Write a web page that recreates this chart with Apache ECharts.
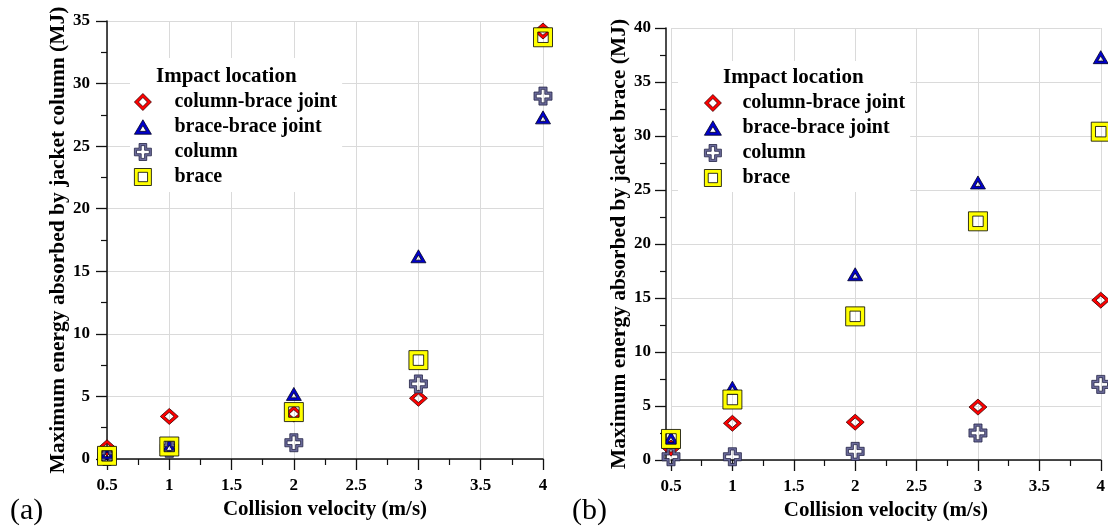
<!DOCTYPE html>
<html>
<head>
<meta charset="utf-8">
<script src="https://cdn.jsdelivr.net/npm/echarts@6/dist/echarts.min.js"></script>
<style>
  html, body { margin: 0; padding: 0; background: #fff; }
  #chart { width: 1108px; height: 530px; }
</style>
</head>
<body>
<div id="chart"></div>
<script>
// ---- data ----
const velocities = [0.5, 1, 2, 3, 4];
const seriesNames = ['column-brace joint', 'brace-brace joint', 'column', 'brace'];

// (a) energy absorbed by jacket column (MJ)
const colBraceJointA = [0.9, 3.4, 3.6, 4.85, 34.2];
const braceBraceJointA = [0.5, 1.0, 5.2, 16.2, 27.3];
const columnA = [0.2, 0.85, 1.3, 6.0, 29.0];
const braceA = [0.25, 1.0, 3.75, 7.9, 33.7];

// (b) energy absorbed by jacket brace (MJ)
const colBraceJointB = [1.1, 3.4, 3.5, 4.9, 14.8];
const braceBraceJointB = [2.0, 6.7, 17.2, 25.7, 37.3];
const columnB = [0.3, 0.3, 0.8, 2.5, 7.0];
const braceB = [1.95, 5.6, 13.3, 22.1, 30.4];

const xTitle = 'Collision velocity (m/s)';
const yTitleA = 'Maximum energy absorbed by jacket column (MJ)';
const yTitleB = 'Maximum energy absorbed by jacket brace (MJ)';
const legendTitle = 'Impact location';

// ---- styles ----
const FONT = '"Liberation Serif", "Times New Roman", serif';
const SYM = {
  diamond: 'path://M10,0L20,10L10,20L0,10Z M10,4.7L4.7,10L10,15.3L15.3,10Z',
  triangle: 'path://M10,0L20,17L0,17Z M10,6.8L6,13.6L14,13.6Z',
  cross: 'path://M5.5,0L14.5,0L14.5,5.5L20,5.5L20,14.5L14.5,14.5L14.5,20L5.5,20L5.5,14.5L0,14.5L0,5.5L5.5,5.5Z M8,2.5L8,8L2.5,8L2.5,12L8,12L8,17.5L12,17.5L12,12L17.5,12L17.5,8L12,8L12,2.5Z',
  square: 'path://M0,0L20,0L20,20L0,20Z M4.5,4.5L4.5,15.5L15.5,15.5L15.5,4.5Z'
};
const markers = [
  { symbol: SYM.diamond, size: [18, 16], color: '#ff0000', border: '#3a0000' },
  { symbol: SYM.triangle, size: [15, 13], color: '#0000cc', border: '#000022' },
  { symbol: SYM.cross, size: [18, 18], color: '#6c6c9c', border: '#222244' },
  { symbol: SYM.square, size: [19, 19], color: '#ffff00', border: '#000000' }
];

function pairs(vals) { return velocities.map((v, i) => [v, vals[i]]); }

function makeSeries(valsList, gi) {
  return valsList.map((vals, k) => ({
    type: 'scatter',
    name: seriesNames[k],
    xAxisIndex: gi, yAxisIndex: gi,
    data: pairs(vals),
    symbol: markers[k].symbol,
    symbolSize: markers[k].size,
    clip: false,
    z: 2 + k,
    itemStyle: { color: markers[k].color, borderColor: markers[k].border, borderWidth: 0.8, opacity: 1 },
    emphasis: { disabled: true }
  }));
}

function xAxisCfg(gi) {
  return {
    type: 'value', gridIndex: gi, min: 0.5, max: 4, interval: 0.5,
    name: xTitle, nameLocation: 'middle', nameGap: 36,
    nameTextStyle: { fontFamily: FONT, fontWeight: 'bold', fontSize: 21, color: '#000' },
    axisLine: { show: true, onZero: false, lineStyle: { color: '#111', width: 1.5 } },
    axisTick: { show: true, inside: false, length: 11, lineStyle: { color: '#111', width: 1.3 } },
    minorTick: { show: true, splitNumber: 2, length: 6, lineStyle: { color: '#111', width: 1.2 } },
    axisLabel: { fontFamily: FONT, fontWeight: 'bold', fontSize: 17, color: '#000', margin: 18 },
    splitLine: { show: true, lineStyle: { color: '#dadada', width: 1 } },
    minorSplitLine: { show: false }
  };
}
function yAxisCfg(gi, max, title, nameGap, margin, offset) {
  return {
    type: 'value', gridIndex: gi, min: 0, max: max, interval: 5, offset: offset,
    name: title, nameLocation: 'middle', nameGap: nameGap, nameRotate: 90,
    nameTextStyle: { fontFamily: FONT, fontWeight: 'bold', fontSize: 21.5, color: '#000' },
    axisLine: { show: true, onZero: false, lineStyle: { color: '#111', width: 1.5 } },
    axisTick: { show: true, inside: false, length: 11, lineStyle: { color: '#111', width: 1.3 } },
    minorTick: { show: true, splitNumber: 2, length: 6, lineStyle: { color: '#111', width: 1.2 } },
    axisLabel: { fontFamily: FONT, fontWeight: 'bold', fontSize: 17, color: '#000', margin: margin },
    splitLine: { show: true, lineStyle: { color: '#dadada', width: 1 } },
    minorSplitLine: { show: false }
  };
}
function legendCfg(left, top, padding, spacer) {
  return {
    orient: 'vertical', left: left, top: top, padding: padding,
    backgroundColor: '#fff', itemWidth: 17, itemHeight: 17, itemGap: 5,
    selectedMode: false, z: 3,
    data: seriesNames.map((n, k) => ({
      name: n, icon: markers[k].symbol,
      itemStyle: { color: markers[k].color, borderColor: markers[k].border, borderWidth: 0.8 }
    })),
    formatter: (name) => '{g| }{t|' + name + '}',
    textStyle: {
      rich: {
        g: { width: spacer, fontSize: 20, lineHeight: 20 },
        t: { fontFamily: FONT, fontWeight: 'bold', fontSize: 20, lineHeight: 20, color: '#000' }
      }
    }
  };
}

const option = {
  animation: false,
  backgroundColor: '#fff',
  grid: [
    { left: 107, top: 21, width: 436, height: 438 },
    { left: 671, top: 28, width: 432, height: 432 }
  ],
  xAxis: [xAxisCfg(0), xAxisCfg(1)],
  yAxis: [yAxisCfg(0, 35, yTitleA, 37, 17, 0), yAxisCfg(1, 40, yTitleB, 35, 15, 5)],
  legend: [
    legendCfg(130, 58, [34, 5, 5, 4], 18),
    legendCfg(678, 61, [32, 5, 4, 26], 16)
  ],
  title: [
    { text: legendTitle, left: 156, top: 66, padding: 0, z: 10,
      textStyle: { fontFamily: FONT, fontWeight: 'bold', fontSize: 21, lineHeight: 21, color: '#000' } },
    { text: legendTitle, left: 723, top: 67, padding: 0, z: 10,
      textStyle: { fontFamily: FONT, fontWeight: 'bold', fontSize: 21, lineHeight: 21, color: '#000' } }
  ],
  graphic: [
    { type: 'text', left: 10, top: 496, style: { text: '(a)', font: '30px ' + FONT, fill: '#000' } },
    { type: 'text', left: 572, top: 496, style: { text: '(b)', font: '30px ' + FONT, fill: '#000' } }
  ],
  series: [].concat(
    makeSeries([colBraceJointA, braceBraceJointA, columnA, braceA], 0),
    makeSeries([colBraceJointB, braceBraceJointB, columnB, braceB], 1)
  )
};

const chart = echarts.init(document.getElementById('chart'), null, { renderer: 'canvas' });
chart.setOption(option);
</script>
</body>
</html>
